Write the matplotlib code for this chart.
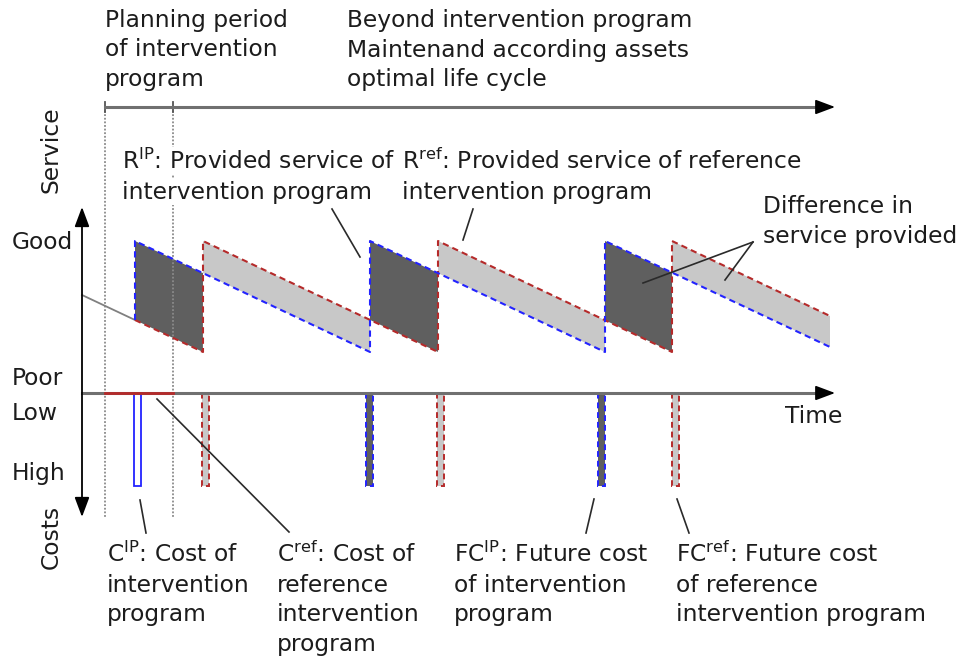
import numpy as np
import matplotlib
matplotlib.use("Agg")
import matplotlib.pyplot as plt

plt.rcParams['font.family'] = ['DejaVu Sans']
plt.rcParams['mathtext.default'] = 'regular'

# schematic, in a time/service frame measured like the picture (y grows downward)
ip_x = [135, 135, 370, 370, 605, 605, 830]
ip_y = [320, 241, 352, 241, 352, 241, 347]
ref_x = [82, 135, 203, 203, 438, 438, 672, 672, 830]
ref_y = [295, 320, 352, 241, 352, 241, 352, 241, 316]

ip_cost_x = [366, 598]          # future cost of intervention program
ref_cost_x = [202, 437, 672]    # cost of reference program
cip_x = 134                     # cost of intervention program
cost_low = 393
cost_high = 486
bar_w = 7

plan_start = 105
plan_end = 173
t_axis_end = 835

blue = '#2323ff'
red = '#b52a2a'
dark = '#5f5f5f'
light = '#c8c8c8'
txt = '#1c1c1c'
fs = 16.8

fig = plt.figure(figsize=(9.6, 6.57), dpi=100)
ax = fig.add_axes([0, 0, 1, 1])
ax.set_xlim(0, 960)
ax.set_ylim(657, 0)
ax.axis('off')

# filled difference areas
x = np.linspace(ip_x[0], ip_x[-1], 6000)
yi = np.interp(x, ip_x, ip_y)
yr = np.interp(x, ref_x, ref_y)
ax.fill_between(x, yi, yr, where=yi < yr, color=dark, lw=0, interpolate=True)
ax.fill_between(x, yi, yr, where=yi > yr, color=light, lw=0, interpolate=True)

# service curves
ax.plot(ref_x[:2], ref_y[:2], color='#808080', lw=1.3)
ax.plot(ref_x[1:], ref_y[1:], color=red, lw=1.5, ls=(0, (3, 2)))
ax.plot(ip_x, ip_y, color=blue, lw=1.5, ls=(0, (3, 2)))

# planning period markers
for xv in [plan_start, plan_end]:
    ax.plot([xv, xv], [107, 518], color='#8a8a8a', lw=1.3, ls=(0, (1, 1)), zorder=1)
    ax.plot([xv, xv], [102, 112], color='#555555', lw=1.3)

# time axis and period arrow
for yv, x0 in [(393, 82), (107, plan_start)]:
    ax.plot([x0, t_axis_end - 8], [yv, yv], color='#707070', lw=2.2)
    ax.annotate('', xy=(t_axis_end, yv), xytext=(t_axis_end - 14, yv),
                arrowprops=dict(arrowstyle='-|>,head_length=1.2,head_width=0.45',
                                color='black', lw=1.2, shrinkA=0, shrinkB=0))
ax.plot([plan_start, plan_end], [393, 393], color=red, lw=2)

# vertical service / cost axis
ax.annotate('', xy=(82, 207), xytext=(82, 517),
            arrowprops=dict(arrowstyle='<|-|>,head_length=1.2,head_width=0.45',
                            color='black', lw=1.3, shrinkA=0, shrinkB=0))

# cost bars
ax.bar([cip_x], [cost_high - cost_low], bottom=cost_low, width=bar_w, align='edge',
       facecolor='white', edgecolor=blue, lw=1.3)
ax.bar(ref_cost_x, [cost_high - cost_low] * 3, bottom=cost_low, width=bar_w,
       align='edge', facecolor=light, edgecolor=red, lw=1.4, ls=(0, (3, 2)))
ax.bar(ip_cost_x, [cost_high - cost_low] * 2, bottom=cost_low, width=bar_w,
       align='edge', facecolor=dark, edgecolor=blue, lw=1.4, ls=(0, (3, 2)))

# leader lines
leaders = [
    ((332, 209), (360, 257)),
    ((473, 209), (463, 240)),
    ((753, 242), (643, 283)),
    ((753, 242), (725, 280)),
    ((140, 500), (146, 533)),
    ((157, 399), (289, 532)),
    ((594, 499), (586, 533)),
    ((677, 499), (689, 533)),
]
for (x0, y0), (x1, y1) in leaders:
    ax.plot([x0, x1], [y0, y1], color='#2a2a2a', lw=1.2)


def label(x0, y0, lines, ha='left', step=29.5, bg=False):
    for i, s in enumerate(lines):
        t = ax.text(x0, y0 + i * step, s, ha=ha, va='baseline', fontsize=fs, color=txt)
        if bg:
            t.set_bbox(dict(facecolor='white', edgecolor='none', pad=1))


label(105, 27, ['Planning period', 'of intervention', 'program'])
label(347, 27, ['Beyond intervention program', 'Maintenand according assets',
                'optimal life cycle'])
label(122, 169, ['R$^{IP}$: Provided service of', 'intervention program'], bg=True)
label(402, 169, ['R$^{ref}$: Provided service of reference', 'intervention program'])
label(763, 213, ['Difference in', 'service provided'])
label(785, 423, ['Time'])
label(12, 249, ['Good'])
label(12, 385, ['Poor'])
label(12, 420, ['Low'])
label(12, 480, ['High'])
label(107, 562, ['C$^{IP}$: Cost of', 'intervention', 'program'])
label(277, 562, ['C$^{ref}$: Cost of', 'reference', 'intervention', 'program'])
label(454, 562, ['FC$^{IP}$: Future cost', 'of intervention', 'program'])
label(676, 562, ['FC$^{ref}$: Future cost', 'of reference', 'intervention program'])

ax.text(51, 150, 'Service', rotation=90, ha='center', va='center', fontsize=fs, color=txt)
ax.text(51, 537, 'Costs', rotation=90, ha='center', va='center', fontsize=fs, color=txt)

fig.savefig('out.png', dpi=100)
